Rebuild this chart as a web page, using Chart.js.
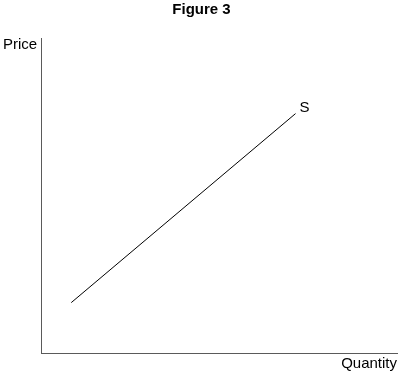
<!DOCTYPE html>
<html>
<head>
<meta charset="utf-8">
<script src="https://cdn.jsdelivr.net/npm/chart.js@4"></script>
<style>
  html, body { margin: 0; padding: 0; background: #ffffff; }
  #wrap { width: 403px; height: 375px; }
</style>
</head>
<body>
<div id="wrap"><canvas id="supplyCanvas" width="403" height="375"></canvas></div>
<script>
// supply curve S (axis units 0..10, no ticks shown)
var supplyQuantity = [0.85, 7.15];
var supplyPrice = [1.6, 7.6];
var curveLabel = 'S';
var chartTitle = 'Figure 3';
var yAxisLabel = 'Price';
var xAxisLabel = 'Quantity';

var textFont = '15px "Liberation Sans", Arial, sans-serif';

// draws the title, axis names and the curve label
var labelsPlugin = {
    id: 'figureLabels',
    afterDraw: function (chart) {
        var ctx = chart.ctx;
        var area = chart.chartArea;
        ctx.save();
        ctx.fillStyle = '#000000';
        ctx.textBaseline = 'middle';

        ctx.font = 'bold 15px "Liberation Sans", Arial, sans-serif';
        ctx.textAlign = 'center';
        ctx.fillText(chartTitle, chart.width / 2, 10);

        ctx.font = textFont;
        ctx.textAlign = 'left';
        ctx.fillText(yAxisLabel, 3, area.top + 7);

        ctx.textAlign = 'right';
        ctx.fillText(xAxisLabel, area.right, area.bottom + 11);

        var meta = chart.getDatasetMeta(0);
        var last = meta.data[meta.data.length - 1];
        ctx.textAlign = 'left';
        ctx.fillText(curveLabel, last.x + 4, last.y - 6);
        ctx.restore();
    }
};

var ctx = document.getElementById('supplyCanvas').getContext('2d');
var supplyChart = new Chart(ctx, {
    type: 'line',
    data: {
        datasets: [
            {
                label: curveLabel,
                data: supplyQuantity.map((x, i) => ({ x: x, y: supplyPrice[i] })),
                borderColor: '#000000',
                borderWidth: 1,
                pointRadius: 0,
                tension: 0,
                fill: false
            }
        ]
    },
    options: {
        responsive: false,
        animation: false,
        layout: {
            padding: { top: 38, left: 41, right: 6, bottom: 22 }
        },
        plugins: {
            legend: { display: false },
            title: { display: false },
            tooltip: { enabled: false }
        },
        scales: {
            x: {
                type: 'linear',
                min: 0,
                max: 10,
                ticks: { display: false },
                grid: { display: false, drawTicks: false },
                border: { display: true, color: '#5a5a5a', width: 1 }
            },
            y: {
                type: 'linear',
                min: 0,
                max: 10,
                ticks: { display: false },
                grid: { display: false, drawTicks: false },
                border: { display: true, color: '#5a5a5a', width: 1 }
            }
        }
    },
    plugins: [labelsPlugin]
});
</script>
</body>
</html>
